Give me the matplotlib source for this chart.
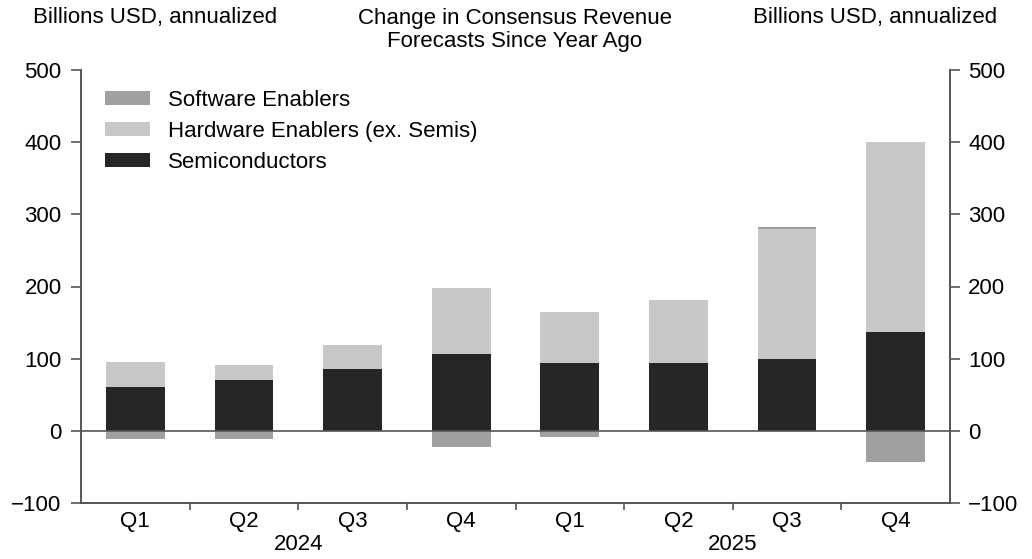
import numpy as np
import matplotlib
matplotlib.use("Agg")
import matplotlib.pyplot as plt
from matplotlib.transforms import offset_copy

plt.rcParams["font.family"] = ["Liberation Sans", "DejaVu Sans"]

quarters = ["Q1", "Q2", "Q3", "Q4", "Q1", "Q2", "Q3", "Q4"]
years = ["2024", "2025"]
semis = [61, 71, 86, 106, 94, 94, 99, 137]
hardware = [35, 20, 33, 92, 70, 87, 181, 263]
software = [-11, -11, 0, -22, -9, 0, 3, -43]

c_semi = "#262626"
c_hw = "#c8c8c8"
c_sw = "#a0a0a0"
axis_col = "#555555"
fs = 16

fig = plt.figure(figsize=(10.32, 5.59), dpi=100)
ax = fig.add_axes([81 / 1032, 1 - 503 / 559, (950 - 81) / 1032, (503 - 70) / 559])

x = np.arange(len(quarters))
semis = np.array(semis, dtype=float)
hardware = np.array(hardware, dtype=float)
software = np.array(software, dtype=float)
w = 0.54

ax.bar(x, semis, w, color=c_semi, label="Semiconductors", zorder=2)
ax.bar(x, hardware, w, bottom=semis, color=c_hw, label="Hardware Enablers (ex. Semis)", zorder=2)
sw_bottom = np.where(software > 0, semis + hardware, 0)
ax.bar(x, software, w, bottom=sw_bottom, color=c_sw, label="Software Enablers", zorder=2)

ax.axhline(0, color=axis_col, lw=1.2, zorder=3)

ax.set_xlim(-0.5, len(quarters) - 0.5)
ax.set_ylim(-100, 500)
ax.set_yticks(range(-100, 501, 100))

ax.set_xticks(np.arange(0.5, len(quarters) - 0.5, 1))
ax.set_xticklabels([])
ax.set_xticks(x, minor=True)
ax.set_xticklabels(quarters, minor=True)
ax.tick_params(axis="x", which="minor", length=0, pad=6, labelsize=fs)
ax.tick_params(axis="x", which="major", length=5, color=axis_col, width=1.2)

ax2 = ax.twinx()
ax2.set_ylim(-100, 500)
ax2.set_yticks(range(-100, 501, 100))

for a in (ax, ax2):
    a.tick_params(axis="y", length=7, color=axis_col, width=1.2, labelsize=fs, pad=7)
    a.spines["top"].set_visible(False)
    for s in ("left", "right", "bottom"):
        a.spines[s].set_color(axis_col)
        a.spines[s].set_linewidth(1.2)
ax2.tick_params(axis="y", pad=6)

# year labels below the quarter labels
year_tr = offset_copy(ax.get_xaxis_transform(), fig=fig, y=-42, units="dots")
for i, yr in enumerate(years):
    ax.text(1.5 + 4 * i, 0, yr, transform=year_tr, ha="center", va="center", fontsize=fs)

handles, labels = ax.get_legend_handles_labels()
ax.legend(handles[::-1], labels[::-1], loc="upper left", frameon=False,
          fontsize=fs, bbox_to_anchor=(0.005, 1.0), handlelength=2.0,
          handleheight=0.6, handletextpad=0.8, labelspacing=0.45)

fig.text(33 / 1032, 1 - 18 / 559, "Billions USD, annualized", ha="left", va="center", fontsize=fs)
fig.text(997 / 1032, 1 - 18 / 559, "Billions USD, annualized", ha="right", va="center", fontsize=fs)
fig.text(515 / 1032, 1 - 30 / 559, "Change in Consensus Revenue\nForecasts Since Year Ago",
         ha="center", va="center", fontsize=fs, linespacing=1.15)

fig.savefig("out.png", dpi=100)
